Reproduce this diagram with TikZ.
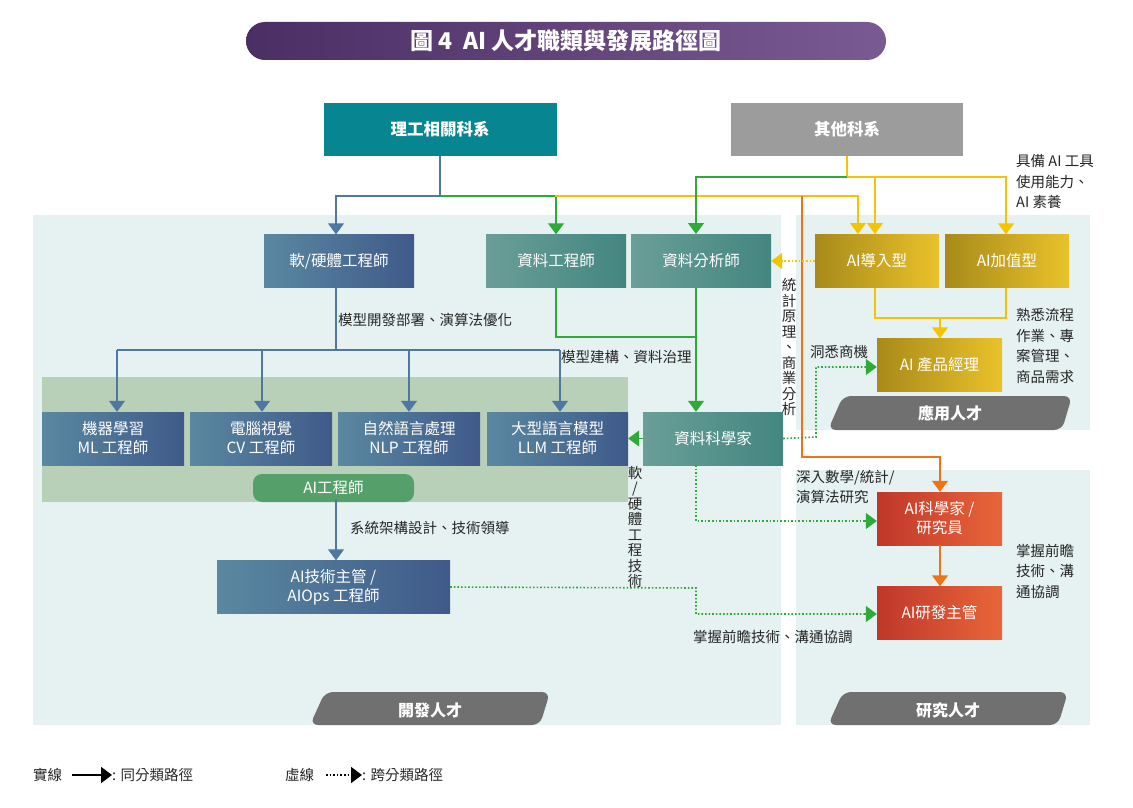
\documentclass[tikz,border=0pt]{standalone}
\usepackage{fontspec}
\setmainfont{Noto Sans CJK TC}
\usetikzlibrary{arrows.meta,calc}
\definecolor{teal1}{HTML}{078590}
\definecolor{grey1}{HTML}{9C9C9C}
\definecolor{blueL}{HTML}{5A88A0}
\definecolor{blueR}{HTML}{3F5A8A}
\definecolor{tealL}{HTML}{6A9E98}
\definecolor{tealR}{HTML}{438680}
\definecolor{goldL}{HTML}{A88A1A}
\definecolor{goldR}{HTML}{E9C22A}
\definecolor{redL}{HTML}{C0372A}
\definecolor{redR}{HTML}{E8663A}
\definecolor{lnblue}{HTML}{4F77A0}
\definecolor{lngreen}{HTML}{2FAA3A}
\definecolor{lnyellow}{HTML}{F5C400}
\definecolor{lnorange}{HTML}{EE7318}
\definecolor{panel}{HTML}{E6F2F1}
\definecolor{band}{HTML}{B8D0B8}
\definecolor{tabg}{HTML}{707070}
\definecolor{purp}{HTML}{4A2E64}
\definecolor{purpR}{HTML}{7A5A92}
\definecolor{aieng}{HTML}{55A06A}
\begin{document}
\begin{tikzpicture}[x=1pt,y=-1pt,
 every node/.style={font=\fontsize{15.5}{19}\selectfont},
 box/.style={minimum width=#1,minimum height=53pt,inner sep=0pt,text=white,align=center},
 bbox/.style={box=#1,left color=blueL,right color=blueR},
 tbox/.style={box=#1,left color=tealL,right color=tealR},
 gbox/.style={box=#1,left color=goldL,right color=goldR},
 rbox/.style={box=#1,left color=redL,right color=redR},
 arr/.style={-{Triangle[length=11pt,width=16pt]},line width=1.6pt},
 sol/.style={line width=1.6pt},
 dot/.style={line width=1.6pt,dotted},
 lab/.style={font=\fontsize{14.5}{20.5}\selectfont,text=black!85,inner sep=0pt,align=left},
 tab/.style={fill=tabg,rounded corners=8pt},
]
\useasboundingbox (0,0) rectangle (1133,808);
\fill[white] (0,0) rectangle (1133,808);
% title
\node[minimum width=640pt,minimum height=38pt,rounded corners=19pt,left color=purp,right color=purpR,text=white,font=\fontsize{23}{25}\selectfont\bfseries] (title) at (566,41) {圖 4\ \ AI 人才職類與發展路徑圖};
% panels
\fill[panel] (33,215) rectangle (781,725);
\fill[panel] (796,215) rectangle (1090,430);
\fill[panel] (796,470) rectangle (1090,725);
\fill[band] (42,377) rectangle (628,502);
% tabs
\fill[tab] (310,725) -- (325,692) -- (550,692) -- (540,725) -- cycle;
\node[text=white,font=\fontsize{16}{17}\selectfont\bfseries] (t1) at (430,710) {開發人才};
\fill[tab] (828,430) -- (843,396) -- (1072,396) -- (1062,430) -- cycle;
\node[text=white,font=\fontsize{16}{17}\selectfont\bfseries] (t2) at (950,413) {應用人才};
\fill[tab] (828,725) -- (843,692) -- (1068,692) -- (1058,725) -- cycle;
\node[text=white,font=\fontsize{16}{17}\selectfont\bfseries] (t3) at (948,710) {研究人才};
% top boxes
\node[box=233pt,fill=teal1,font=\fontsize{16.5}{19}\selectfont\bfseries] (stem) at (440,129) {理工相關科系};
\node[box=232pt,fill=grey1,font=\fontsize{16.5}{19}\selectfont\bfseries] (other) at (847,129) {其他科系};
% row 2
\node[bbox=150pt] (sw) at (339,261) {軟/硬體工程師};
\node[tbox=140pt] (de) at (556,261) {資料工程師};
\node[tbox=140pt] (da) at (701,261) {資料分析師};
\node[gbox=124pt] (ai1) at (877,261) {AI導入型};
\node[gbox=124pt] (ai2) at (1007,261) {AI加值型};
\node[gbox=125pt] (pm) at (939.5,365) {AI 產品經理};
% row 3
\node[bbox=142pt] (ml) at (113,438.5) {機器學習\\ML 工程師};
\node[bbox=142pt] (cv) at (261,438.5) {電腦視覺\\CV 工程師};
\node[bbox=142pt] (nlp) at (409,438.5) {自然語言處理\\NLP 工程師};
\node[bbox=141pt] (llm) at (557.5,438.5) {大型語言模型\\LLM 工程師};
\node[tbox=140pt] (ds) at (713,438.5) {資料科學家};
\fill[aieng,rounded corners=9pt] (253,502) -- (253,474) -- (414,474) -- (414,502) -- cycle;
\node[text=white] (aie) at (333.5,488) {AI工程師};
\node[bbox=233pt] (lead) at (333.5,587) {AI技術主管 /\\AIOps 工程師};
\node[rbox=125pt] (sci) at (939.5,518.5) {AI科學家 /\\研究員};
\node[rbox=125pt] (rd) at (939.5,613) {AI研發主管};
% coordinates
\coordinate (j1) at (440,196);
% solid from STEM
\draw[sol,lnblue] (stem.south) -- (j1);
\draw[arr,lnblue] (j1) -| (sw.north -| 336,0);
\draw[arr,lngreen] (j1) -| (de.north);
\draw[arr,lnyellow] (555,196) -| (858,234);
\draw[arr,lnorange] (802,196) |- (940,457) -- (sci.north -| 940,0);
% other
\coordinate (j2) at (847,177);
\draw[sol,lnyellow] (other.south) -- (j2);
\draw[arr,lngreen] (j2) -| (696,234);
\draw[arr,lnyellow] (j2) -| (ai2.north -| 1006,0);
\draw[arr,lnyellow] (875,177) -- (875,234);
% row2 to row3
\draw[sol,lnblue] (336,288) -- (336,350);
\draw[sol,lnblue] (117,350) -- (560,350);
\foreach \x/\n in {117/ml,262/cv,409/nlp,560/llm} \draw[arr,lnblue] (\x,350) -- (\n.north -| \x,0);
\draw[sol,lngreen] (de.south) |- (696,337);
\draw[arr,lngreen] (696,288) -- (ds.north -| 696,0);
\draw[arr,lngreen] (ds.west) -- (llm.east);
\draw[arr,lnblue] (aie.south -| 336,0) -- (lead.north -| 336,0);
% gold
\draw[sol,lnyellow] (875,288) |- (1006,318) -- (1006,288);
\draw[arr,lnyellow] (940,318) -- (pm.north -| 940,0);
\draw[dot,lnyellow] (ai1.west) -- (781,261);
\draw[arr,lnyellow] (782,261) -- (da.east);
% research
\draw[arr,lnorange] (sci.south -| 940,0) -- (rd.north -| 940,0);
% dotted green
\draw[dot,lngreen] (ds.east) -- (816,437) |- (866,367);
\draw[arr,lngreen] (865,367) -- (pm.west |- 0,367);
\draw[dot,lngreen] (696,465) |- (866,521);
\draw[arr,lngreen] (865,521) -- (sci.west |- 0,521);
\draw[dot,lngreen] (lead.east) -- (696,588) |- (866,614);
\draw[arr,lngreen] (865,614) -- (rd.west |- 0,614);
% labels
\node[lab,anchor=west] (l1) at (1016,182) {具備 AI 工具\\使用能力、\\AI 素養};
\node[lab,anchor=west] (l2) at (1016,346) {熟悉流程\\作業、專\\案管理、\\商品需求};
\node[lab,anchor=west] (l3) at (338,320) {模型開發部署、演算法優化};
\node[lab,anchor=west] (l4) at (561,357) {模型建構、資料治理};
\node[lab,anchor=west] (l5) at (810,352) {洞悉商機};
\node[lab,align=center,text width=15pt] (l6) at (789,347) {統\\[-5pt]計\\[-5pt]原\\[-5pt]理\\[-5pt]、\\[-5pt]商\\[-5pt]業\\[-5pt]分\\[-5pt]析};
\node[lab,align=center,text width=15pt] (l7) at (635,527) {軟\\[-5pt]/\\[-5pt]硬\\[-5pt]體\\[-5pt]工\\[-5pt]程\\[-5pt]技\\[-5pt]術};
\node[lab,anchor=west] (l8) at (796,487) {深入數學/統計/\\演算法研究};
\node[lab,anchor=west] (l9) at (1016,571) {掌握前瞻\\技術、溝\\通協調};
\node[lab,anchor=west] (l10) at (693,637) {掌握前瞻技術、溝通協調};
\node[lab,anchor=west] (l11) at (350,528) {系統架構設計、技術領導};
% legend
\node[lab,anchor=west] (g1) at (33,775) {實線};
\coordinate (g1a) at (72,775); \coordinate (g1b) at (112,775);
\draw[arr,black] (g1a) -- (g1b);
\node[lab,anchor=west] (g2) at (112,775) {: 同分類路徑};
\node[lab,anchor=west] (g3) at (285,775) {虛線};
\coordinate (g3a) at (326,775); \coordinate (g3b) at (362,775);
\draw[dot,black] (g3a) -- (352,775);
\draw[arr,black] (351,775) -- (g3b);
\node[lab,anchor=west] (g4) at (362,775) {: 跨分類路徑};
\end{tikzpicture}
\end{document}
